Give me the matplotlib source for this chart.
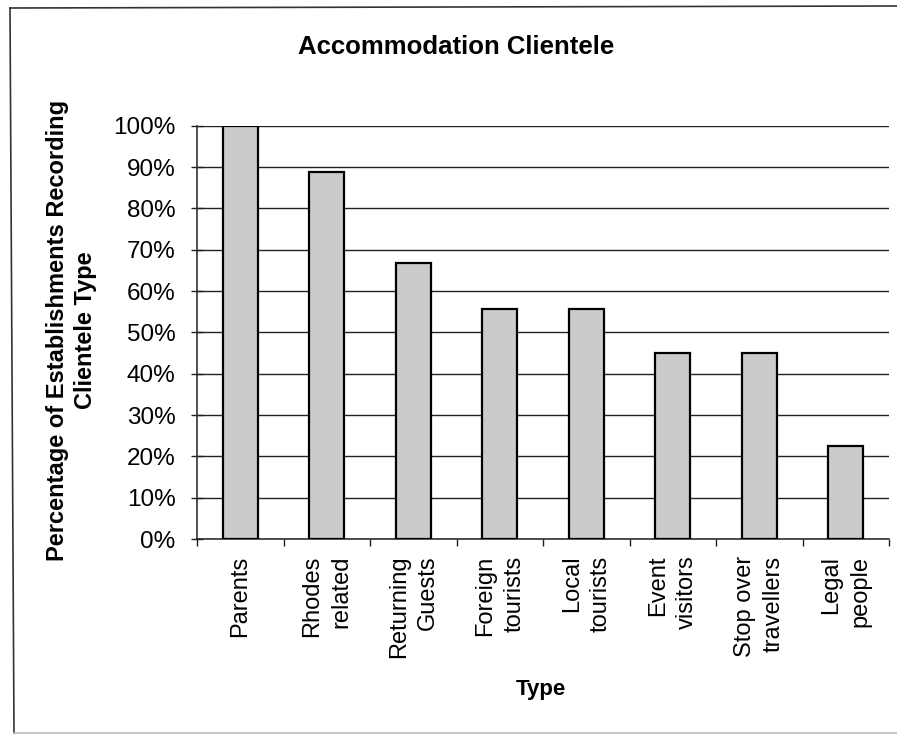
import matplotlib
matplotlib.use("Agg")
import matplotlib.pyplot as plt
from matplotlib.lines import Line2D
from matplotlib.ticker import MultipleLocator, FuncFormatter

plt.rcParams['font.family'] = ['Liberation Sans', 'DejaVu Sans']

categories = ["Parents", "Rhodes\nrelated", "Returning\nGuests", "Foreign\ntourists",
              "Local\ntourists", "Event\nvisitors", "Stop over\ntravellers", "Legal\npeople"]
values = [100.0, 88.9, 66.7, 55.6, 55.6, 44.9, 44.9, 22.4]

W, H = 897, 736
fig = plt.figure(figsize=(W / 100, H / 100), dpi=100)
ax = fig.add_axes([197 / W, 1 - 539 / H, (889 - 197) / W, (539 - 125.7) / H])

x = range(len(categories))
ax.bar(x, values, width=0.4, color="#cbcbcb", edgecolor="black", linewidth=1.6, zorder=3)

ax.set_xlim(-0.5, len(categories) - 0.5)
ax.set_ylim(0, 100)
ax.yaxis.set_major_locator(MultipleLocator(10))
ax.yaxis.set_major_formatter(FuncFormatter(lambda v, p: f"{int(round(v))}%"))
ax.grid(axis="y", color="#222222", linewidth=1.0, zorder=0)

# category ticks sit on the boundaries between bars
ax.set_xticks([i - 0.5 for i in range(len(categories) + 1)])
ax.set_xticklabels([])
ax.set_xticks(list(x), minor=True)
ax.set_xticklabels(categories, minor=True, rotation=90, va="top", ha="center",
                   multialignment="right", fontsize=17, linespacing=1.4)
ax.tick_params(axis="x", which="major", direction="out", length=5, width=1, color="#222222")
ax.tick_params(axis="x", which="minor", length=0, pad=12)
ax.tick_params(axis="y", direction="inout", length=8, width=1, color="#222222",
               labelsize=17.5, pad=11.5)

for side in ("top", "right"):
    ax.spines[side].set_visible(False)
for side in ("left", "bottom"):
    ax.spines[side].set_linewidth(1.1)
    ax.spines[side].set_color("#222222")

fig.text(456 / W, 1 - 47 / H, "Accommodation Clientele", ha="center", va="center",
         fontsize=18.5, fontweight="bold")
fig.text(71.5 / W, 1 - 330 / H, "Percentage of Establishments Recording\nClientele Type",
         ha="center", va="center", rotation=90, fontsize=17, fontweight="bold",
         linespacing=1.25)
fig.text(541 / W, 1 - 690 / H, "Type", ha="center", va="center",
         fontsize=16, fontweight="bold")

# chart-area frame
fig.add_artist(Line2D([10 / W, 14 / W], [1 - 8 / H, 1 - 733 / H], color="#333333",
                      linewidth=1.2, transform=fig.transFigure))
fig.add_artist(Line2D([10 / W, 1.0], [1 - 8 / H, 1 - 6 / H], color="#333333",
                      linewidth=1.2, transform=fig.transFigure))
fig.add_artist(Line2D([14 / W, 1.0], [1 - 733 / H, 1 - 733 / H], color="#bbbbbb",
                      linewidth=1.2, transform=fig.transFigure))

fig.savefig("out.png", dpi=100)
